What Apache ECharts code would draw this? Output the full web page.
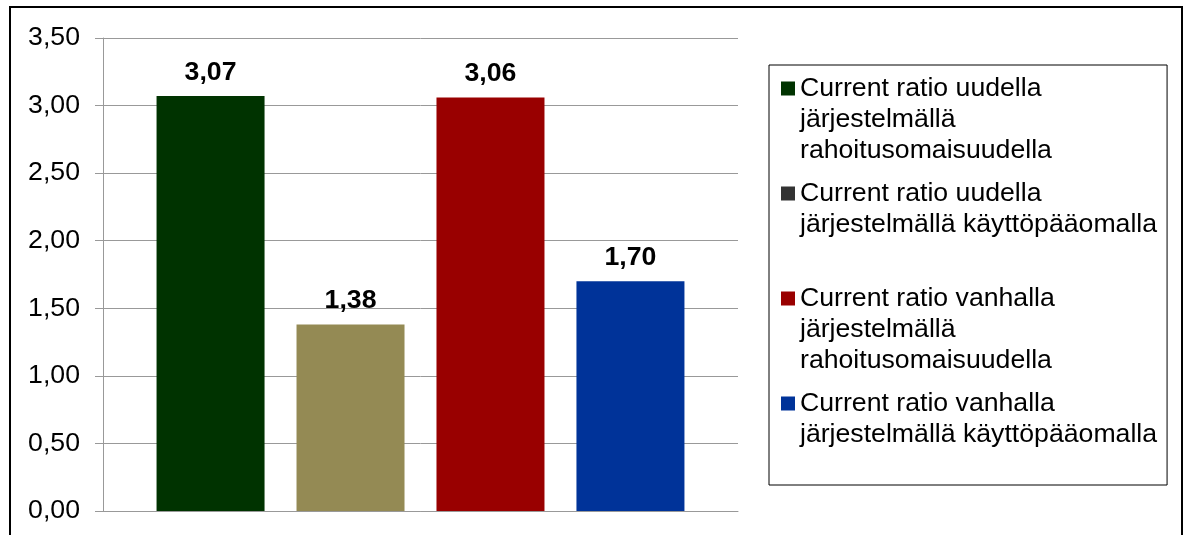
<!DOCTYPE html>
<html>
<head>
<meta charset="utf-8">
<script src="https://cdn.jsdelivr.net/npm/echarts@6/dist/echarts.min.js"></script>
<style>
html,body{margin:0;padding:0;background:#fff;}
#chart{width:1187px;height:535px;}
</style>
</head>
<body>
<div id="chart"></div>
<script>
// ---- data ----
const categories = [''];
const seriesNames = [
  'Current ratio uudella järjestelmällä rahoitusomaisuudella',
  'Current ratio uudella järjestelmällä käyttöpääomalla',
  'Current ratio vanhalla järjestelmällä rahoitusomaisuudella',
  'Current ratio vanhalla järjestelmällä käyttöpääomalla'
];
const legendLabels = [
  'Current ratio uudella\njärjestelmällä\nrahoitusomaisuudella',
  'Current ratio uudella\njärjestelmällä käyttöpääomalla\n ',
  'Current ratio vanhalla\njärjestelmällä\nrahoitusomaisuudella',
  'Current ratio vanhalla\njärjestelmällä käyttöpääomalla\n '
];
const values = [3.07, 1.38, 3.06, 1.70];
const yTicks = { min: 0, max: 3.5, interval: 0.5 };

// ---- styles ----
const barColors = ['#003300', '#948A54', '#990000', '#003399'];
const legendIconColors = ['#003300', '#333333', '#990000', '#003399'];
const FONT = 'Liberation Sans, Arial, sans-serif';
const FS = 26.67;
const fmt = v => Number(v).toFixed(2).replace('.', ',');
const iconPath = 'path://M0,0L14,0L14,0Z M0,8.5L14,8.5L14,22.5L0,22.5Z M0,93L14,93L14,93Z';

const chart = echarts.init(document.getElementById('chart'), null, { renderer: 'canvas' });

const series = seriesNames.map((name, i) => ({
  name: name,
  type: 'bar',
  data: [values[i]],
  barWidth: 108,
  barGap: '29.6%',
  itemStyle: { color: barColors[i] },
  label: {
    show: true,
    position: 'top',
    distance: 10,
    formatter: p => fmt(p.value),
    fontFamily: FONT,
    fontSize: FS,
    fontWeight: 'bold',
    color: '#000'
  }
}));

chart.setOption({
  animation: false,
  backgroundColor: '#fff',
  grid: { left: 103, right: 449, top: 38, bottom: 24, containLabel: false },
  xAxis: {
    type: 'category',
    data: categories,
    axisLine: { show: true, lineStyle: { color: '#999', width: 1 } },
    axisTick: { show: false },
    axisLabel: { show: false },
    splitLine: { show: false }
  },
  yAxis: {
    type: 'value',
    min: yTicks.min,
    max: yTicks.max,
    interval: yTicks.interval,
    axisLine: { show: true, lineStyle: { color: '#999', width: 1 } },
    axisTick: { show: true, length: 8, inside: false, lineStyle: { color: '#999', width: 1 } },
    axisLabel: { fontFamily: FONT, fontSize: FS, color: '#000', margin: 23, formatter: v => fmt(v) },
    splitLine: { show: true, lineStyle: { color: '#999', width: 1 } }
  },
  legend: {
    orient: 'vertical',
    left: 769,
    top: 65,
    padding: [8, 10, 4, 12],
    itemGap: 12,
    itemWidth: 14,
    itemHeight: 93,
    borderColor: '#000',
    borderWidth: 1,
    selectedMode: false,
    icon: iconPath,
    textStyle: { fontFamily: FONT, fontSize: FS, color: '#000', lineHeight: 31 },
    formatter: name => legendLabels[seriesNames.indexOf(name)],
    data: seriesNames.map((n, i) => ({ name: n, icon: iconPath, itemStyle: { color: legendIconColors[i], borderWidth: 0 } }))
  },
  graphic: [{
    type: 'rect',
    silent: true,
    shape: { x: 10, y: 7, width: 1172, height: 700 },
    style: { fill: 'none', stroke: '#000', lineWidth: 2 },
    z: 100
  }],
  series: series
});
</script>
</body>
</html>
